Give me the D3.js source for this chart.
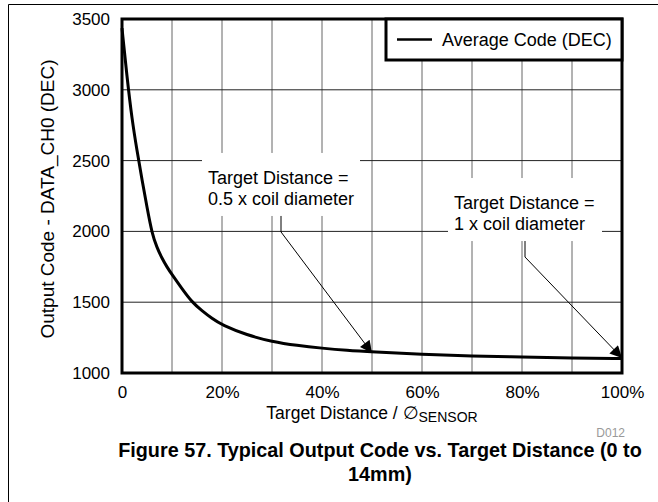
<!DOCTYPE html>
<html>
<head>
<meta charset="utf-8">
<script src="https://cdn.jsdelivr.net/npm/d3@7"></script>
<style>
  body { margin: 0; background: #fff; }
  svg text { font-family: "Liberation Sans", Arial, sans-serif; }
</style>
</head>
<body>
<svg id="chart" width="658" height="502"></svg>
<script>
// values
let distPct = [0, 1, 2, 3, 4, 5, 6, 7, 8, 9, 10, 12, 14, 16, 18, 20, 25, 30, 35, 40, 45, 50, 60, 70, 80, 90, 100]
let avgCode = [3435, 3090, 2790, 2570, 2365, 2170, 1985, 1885, 1810, 1748, 1695, 1595, 1500, 1440, 1385, 1339, 1268, 1221, 1194, 1175, 1160, 1150, 1132, 1120, 1113, 1106, 1102]
let xTicks = [0, 20, 40, 60, 80, 100]
let yTicks = [1000, 1500, 2000, 2500, 3000, 3500]
let xGrid = [10, 20, 30, 40, 50, 60, 70, 80, 90]
let yGrid = [1500, 2000, 2500, 3000]

// callouts: box in data units, text lines, arrow start / elbow / tip
let notes = [
  {x0: 16, x1: 47.6, y0: 2554, y1: 2109, lines: ["Target Distance =", "0.5 x coil diameter"],
   arrow: [[31.8, 2109], [31.8, 1996], [50, 1141]]},
  {x0: 65.2, x1: 96, y0: 2377, y1: 1932, lines: ["Target Distance =", "1 x coil diameter"],
   arrow: [[80.6, 1932], [80.6, 1819], [100, 1106]]}
]

let margin = {top: 19, left: 122, right: 36, bottom: 129}
let width = 658, height = 502
let w = width - margin.left - margin.right
let h = height - margin.top - margin.bottom

let svg = d3.select("#chart")

// page frame (left + top rule)
svg.append("path")
  .attr("d", "M8.5,502 V4.5 H658")
  .attr("fill", "none")
  .attr("stroke", "#000")
  .attr("stroke-width", 1)

let xScale = d3.scaleLinear().domain([0, 100]).range([0, w])
let yScale = d3.scaleLinear().domain([1000, 3500]).range([h, 0])

let g = svg.append("g").attr("transform", "translate(" + margin.left + "," + margin.top + ")")

// grid
g.append("g").selectAll("line").data(xGrid).join("line")
  .attr("x1", d => xScale(d)).attr("x2", d => xScale(d))
  .attr("y1", 0).attr("y2", h)
  .attr("stroke", "#666").attr("stroke-width", 1)
g.append("g").selectAll("line").data(yGrid).join("line")
  .attr("x1", 0).attr("x2", w)
  .attr("y1", d => yScale(d)).attr("y2", d => yScale(d))
  .attr("stroke", "#222").attr("stroke-width", 1)

// white boxes under callout text
g.append("g").selectAll("rect").data(notes).join("rect")
  .attr("x", d => xScale(d.x0)).attr("y", d => yScale(d.y0))
  .attr("width", d => xScale(d.x1) - xScale(d.x0))
  .attr("height", d => yScale(d.y1) - yScale(d.y0))
  .attr("fill", "#fff")

// axes
g.append("g")
  .attr("transform", "translate(0," + h + ")")
  .call(d3.axisBottom(xScale).tickValues(xTicks).tickSize(0).tickPadding(13)
    .tickFormat(d => d == 0 ? "0" : d + "%"))
  .call(a => a.select(".domain").remove())
  .selectAll("text").attr("font-size", 17).attr("fill", "#000")

g.append("g")
  .call(d3.axisLeft(yScale).tickValues(yTicks).tickSize(0).tickPadding(12)
    .tickFormat(d3.format("d")))
  .call(a => a.select(".domain").remove())
  .selectAll("text").attr("font-size", 17).attr("fill", "#000")

// curve
let line = d3.line()
  .x((d, i) => xScale(distPct[i]))
  .y(d => yScale(d))
  .curve(d3.curveBasis)

g.append("path")
  .datum(avgCode)
  .attr("d", line)
  .attr("fill", "none")
  .attr("stroke", "#000")
  .attr("stroke-width", 3)

// arrow head marker
svg.append("defs").append("marker")
  .attr("id", "head")
  .attr("viewBox", "0 0 10 10")
  .attr("refX", 10).attr("refY", 5)
  .attr("markerWidth", 14).attr("markerHeight", 12)
  .attr("markerUnits", "userSpaceOnUse")
  .attr("orient", "auto")
  .append("path").attr("d", "M0,0 L10,5 L0,10 Z").attr("fill", "#000")

let arrowLine = d3.line().x(d => xScale(d[0])).y(d => yScale(d[1]))
g.append("g").selectAll("path").data(notes).join("path")
  .attr("d", d => arrowLine(d.arrow))
  .attr("fill", "none")
  .attr("stroke", "#000")
  .attr("stroke-width", 1)
  .attr("marker-end", "url(#head)")

// callout text
notes.forEach(n => {
  g.append("text")
    .attr("x", xScale(n.x0) + 6)
    .attr("y", yScale(n.y0) + 31)
    .attr("font-size", 18)
    .selectAll("tspan").data(n.lines).join("tspan")
    .attr("x", xScale(n.x0) + 6)
    .attr("dy", (d, i) => i == 0 ? 0 : 21)
    .text(d => d)
})

// plot border
g.append("rect")
  .attr("x", 0).attr("y", 0).attr("width", w).attr("height", h)
  .attr("fill", "none").attr("stroke", "#000").attr("stroke-width", 3)

// legend
let lg = g.append("g").attr("transform", "translate(" + (w - 236) + ",0)")
lg.append("rect")
  .attr("x", 0).attr("y", 0).attr("width", 236).attr("height", 41)
  .attr("fill", "#fff").attr("stroke", "#000").attr("stroke-width", 3)
lg.append("line")
  .attr("x1", 11).attr("x2", 46).attr("y1", 20.5).attr("y2", 20.5)
  .attr("stroke", "#000").attr("stroke-width", 2.5)
lg.append("text")
  .attr("x", 56).attr("y", 27)
  .attr("font-size", 18)
  .text("Average Code (DEC)")

// axis titles
let xt = svg.append("text")
  .attr("x", margin.left + w / 2).attr("y", 419)
  .attr("text-anchor", "middle")
  .attr("font-size", 17.5)
xt.append("tspan").text("Target Distance / \u2205")
xt.append("tspan").attr("font-size", 14).attr("dy", 3).text("SENSOR")

svg.append("text")
  .attr("transform", "translate(54," + (margin.top + h / 2 + 3) + ") rotate(-90)")
  .attr("text-anchor", "middle")
  .attr("font-size", 19)
  .text("Output Code - DATA_CH0 (DEC)")

svg.append("text")
  .attr("x", 625).attr("y", 437)
  .attr("text-anchor", "end")
  .attr("font-size", 12)
  .attr("fill", "#999")
  .text("D012")

// caption
let cap = svg.append("text")
  .attr("text-anchor", "middle")
  .attr("font-size", 19.8)
  .attr("font-weight", "bold")
cap.append("tspan").attr("x", 380).attr("y", 457).text("Figure 57. Typical Output Code vs. Target Distance (0 to")
cap.append("tspan").attr("x", 380).attr("y", 481).text("14mm)")
</script>
</body>
</html>
